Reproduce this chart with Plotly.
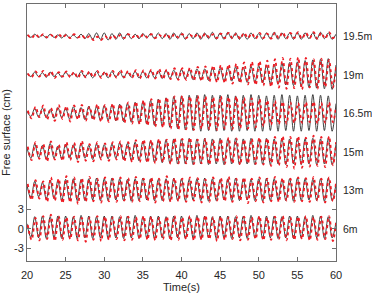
import numpy as np
import plotly.graph_objects as go

# sample times (s): crests / troughs every half second
t = [20 + 0.5 * i for i in range(81)]
# simulated series lags the measured one slightly
t_sim = [min(60.0, 20.1 + 0.5 * i) for i in range(81)]

gauges = ["6m", "13m", "15m", "16.5m", "19m", "19.5m"]
offsets = [0, 6, 12, 18, 24, 30]

meas_6 = [0.8,-1.3,1.9,-1.4,2.0,-1.5,1.9,-1.4,2.0,-1.5,
          2.0,-1.4,1.9,-1.5,2.1,-1.4,2.0,-1.5,1.9,-1.4,
          2.0,-1.5,2.0,-1.4,1.9,-1.5,2.0,-1.4,2.1,-1.5,
          1.9,-1.4,2.0,-1.5,2.0,-1.4,1.9,-1.5,2.0,-1.4,
          2.0,-1.5,1.9,-1.4,2.1,-1.5,2.0,-1.4,1.9,-1.5,
          2.0,-1.4,2.0,-1.5,1.9,-1.4,2.0,-1.5,2.1,-1.4,
          1.9,-1.5,2.0,-1.4,2.0,-1.5,1.9,-1.4,2.0,-1.5,
          2.0,-1.4,1.9,-1.5,2.1,-1.4,2.0,-1.5,1.9,-1.4,
          1.0]
sim_6 = [0.6,-1.7,1.7,-1.8,2.0,-1.6,2.2,-1.9,2.0,-1.7,
         1.8,-1.6,1.9,-1.8,1.7,-2.0,1.8,-1.7,2.0,-1.9,
         1.9,-1.7,1.8,-1.6,2.0,-1.8,1.9,-1.7,1.8,-1.6,
         2.0,-1.7,1.9,-1.8,1.7,-1.6,1.9,-1.8,2.0,-1.7,
         1.8,-1.6,2.0,-1.8,1.9,-1.7,2.1,-1.6,1.8,-1.9,
         1.9,-1.7,1.8,-1.6,2.0,-1.8,1.9,-1.7,1.8,-1.6,
         2.0,-1.8,1.7,-1.7,1.9,-1.6,2.0,-1.8,1.8,-1.7,
         1.9,-1.6,2.0,-1.8,1.8,-1.7,1.9,-1.6,2.0,-1.9,
         0.9]

meas_13 = [0.8,-1.2,1.4,-1.0,1.2,-1.4,1.6,-1.3,1.5,-1.6,
           1.7,-1.5,1.8,-1.6,1.7,-1.6,1.8,-1.5,1.9,-1.6,
           1.8,-1.6,1.9,-1.5,1.8,-1.6,1.7,-1.7,1.8,-1.6,
           1.9,-1.5,1.8,-1.6,1.7,-1.6,1.8,-1.7,1.9,-1.6,
           1.8,-1.6,1.7,-1.5,1.8,-1.6,1.9,-1.7,1.8,-1.6,
           1.7,-1.5,1.8,-1.6,1.9,-1.6,1.8,-1.5,1.7,-1.6,
           1.8,-1.7,1.9,-1.6,1.8,-1.5,1.7,-1.6,1.8,-1.7,
           1.9,-1.6,1.8,-1.5,1.7,-1.6,1.8,-1.7,1.9,-1.6,
           1.0]
sim_13 = [1.0,-1.5,1.6,-1.3,1.4,-1.8,2.0,-1.6,1.8,-2.0,
          2.2,-1.9,2.0,-2.1,1.9,-1.8,2.1,-1.7,1.8,-1.9,
          2.0,-1.7,1.8,-1.8,2.0,-1.6,1.9,-1.8,2.1,-1.7,
          1.8,-1.6,2.0,-1.9,1.8,-1.7,2.2,-1.8,1.9,-1.7,
          1.8,-1.8,2.0,-1.6,1.9,-1.9,1.7,-1.8,2.0,-1.6,
          1.9,-1.7,2.1,-1.8,1.8,-1.6,2.0,-2.0,1.8,-1.7,
          2.0,-1.9,1.8,-1.7,2.1,-1.8,1.9,-1.6,1.8,-1.8,
          2.0,-1.7,1.9,-1.8,2.1,-1.6,1.8,-1.9,2.0,-1.7,
          1.2]

meas_15 = [0.6,-1.0,1.2,-0.9,1.0,-1.2,1.3,-1.0,0.9,-1.1,
           1.2,-1.0,1.1,-1.2,1.3,-1.0,1.0,-1.2,1.2,-1.0,
           1.1,-1.1,1.2,-1.0,1.4,-1.2,1.3,-1.3,1.5,-1.4,
           1.6,-1.5,1.7,-1.6,1.8,-1.7,1.9,-1.8,2.0,-1.9,
           2.0,-1.9,2.1,-2.0,2.0,-1.9,2.1,-2.0,2.0,-1.9,
           2.1,-2.0,2.0,-1.9,2.1,-2.0,2.0,-1.9,2.1,-2.0,
           2.0,-1.9,2.1,-2.0,2.0,-1.9,2.1,-2.0,2.0,-1.9,
           2.1,-2.0,2.0,-1.9,2.1,-2.0,2.0,-1.9,2.1,-2.0,
           1.2]
sim_15 = [0.8,-1.3,1.5,-1.1,1.2,-1.5,1.6,-1.2,1.1,-1.4,
          1.5,-1.3,1.4,-1.6,1.7,-1.4,1.2,-1.5,1.5,-1.2,
          1.3,-1.4,1.5,-1.2,1.6,-1.5,1.5,-1.6,1.8,-1.6,
          1.9,-1.7,1.8,-1.8,2.0,-1.6,1.9,-1.9,2.1,-1.8,
          2.0,-1.8,2.2,-1.9,1.9,-1.8,2.0,-2.0,1.8,-1.7,
          2.0,-1.9,2.2,-1.8,2.1,-2.0,1.9,-1.8,2.0,-1.9,
          2.2,-2.0,2.1,-2.2,2.3,-2.1,2.4,-2.4,2.3,-2.6,
          2.4,-2.5,2.2,-2.3,2.5,-2.2,2.3,-2.4,2.4,-2.1,
          1.5]

meas_165 = [0.3,-0.5,0.7,-0.6,0.8,-0.7,0.6,-0.8,0.9,-0.7,
            0.8,-0.9,1.0,-0.8,0.9,-1.0,1.1,-0.9,1.0,-1.1,
            1.2,-1.1,1.3,-1.2,1.4,-1.3,1.5,-1.4,1.7,-1.6,
            1.8,-1.7,2.0,-1.9,2.2,-2.0,2.4,-2.2,2.6,-2.4,
            2.7,-2.6,2.8,-2.7,2.8,-2.8,2.9,-2.7,2.8,-2.8,
            2.8,-2.7,2.9,-2.8,2.7,-2.8,2.8,-2.7,2.9,-2.8,
            2.8,-2.8,2.7,-2.7,2.8,-2.8,2.9,-2.7,2.8,-2.8,
            2.7,-2.8,2.8,-2.7,2.9,-2.8,2.8,-2.7,2.7,-2.8,
            1.5]
sim_165 = [0.4,-0.8,1.0,-0.6,1.2,-1.0,0.8,-1.2,1.3,-0.9,
           1.1,-1.3,1.2,-1.0,1.3,-1.2,1.0,-1.1,1.4,-1.3,
           1.3,-1.4,1.5,-1.3,1.4,-1.5,1.7,-1.6,1.8,-1.7,
           2.0,-1.9,2.2,-2.1,2.3,-2.2,2.5,-2.4,2.6,-2.5,
           2.7,-2.5,2.6,-2.6,2.7,-2.4,2.6,-2.5,2.5,-2.6,
           2.6,-2.4,2.5,-2.5,2.6,-2.3,2.4,-2.4,2.3,-2.2,
           2.2,-2.0,2.0,-1.8,1.9,-1.7,1.8,-1.6,1.7,-1.5,
           1.6,-1.5,1.7,-1.4,1.8,-1.6,1.6,-1.5,1.7,-1.4,
           1.0]

meas_19 = [0.2,-0.3,0.4,-0.3,0.3,-0.4,0.4,-0.3,0.3,-0.4,
           0.4,-0.3,0.3,-0.4,0.5,-0.4,0.4,-0.5,0.5,-0.4,
           0.4,-0.5,0.5,-0.4,0.5,-0.5,0.4,-0.4,0.5,-0.5,
           0.5,-0.5,0.6,-0.5,0.6,-0.6,0.7,-0.6,0.7,-0.7,
           0.8,-0.7,0.8,-0.8,0.9,-0.8,0.9,-0.9,1.0,-0.9,
           1.0,-1.0,1.1,-1.0,1.2,-1.1,1.2,-1.2,1.3,-1.2,
           1.4,-1.3,1.5,-1.4,1.6,-1.5,1.8,-1.6,1.9,-1.7,
           2.0,-1.9,2.2,-2.0,2.3,-2.1,2.4,-2.2,2.5,-2.3,
           1.5]
sim_19 = [0.2,-0.4,0.5,-0.3,0.6,-0.4,0.5,-0.5,0.4,-0.3,
          0.5,-0.4,0.4,-0.5,0.6,-0.4,0.5,-0.4,0.6,-0.5,
          0.5,-0.4,0.6,-0.5,0.7,-0.4,0.6,-0.5,0.7,-0.6,
          0.7,-0.5,0.8,-0.6,0.9,-0.7,0.8,-0.7,1.0,-0.8,
          1.0,-0.8,1.1,-0.9,1.2,-1.0,1.3,-1.1,1.4,-1.2,
          1.5,-1.3,1.6,-1.4,1.7,-1.3,1.9,-1.5,2.0,-1.6,
          2.1,-1.7,2.2,-1.9,2.4,-2.0,2.6,-2.2,2.5,-2.1,
          2.7,-2.3,2.6,-2.0,2.4,-2.2,2.5,-1.9,2.3,-2.0,
          1.2]

meas_195 = [0.2,-0.2,0.3,-0.2,0.2,-0.3,0.3,-0.2,0.2,-0.3,
            0.3,-0.3,0.2,-0.3,0.3,-0.4,0.4,-0.5,0.5,-0.5,
            0.5,-0.6,0.4,-0.5,0.5,-0.5,0.4,-0.4,0.3,-0.4,
            0.4,-0.3,0.4,-0.4,0.5,-0.4,0.4,-0.5,0.5,-0.4,
            0.5,-0.5,0.4,-0.4,0.5,-0.5,0.5,-0.4,0.6,-0.5,
            0.5,-0.5,0.6,-0.4,0.5,-0.5,0.4,-0.5,0.5,-0.4,
            0.4,-0.5,0.5,-0.4,0.6,-0.5,0.5,-0.4,0.5,-0.5,
            0.6,-0.5,0.5,-0.4,0.5,-0.5,0.6,-0.4,0.5,-0.5,
            0.3]
sim_195 = [0.2,-0.3,0.3,-0.2,0.3,-0.2,0.2,-0.3,0.3,-0.2,
           0.2,-0.3,0.3,-0.2,0.1,-0.4,0.0,-0.6,-0.1,-0.6,
           0.0,-0.5,0.1,-0.3,0.2,-0.3,0.3,-0.2,0.2,-0.3,
           0.3,-0.2,0.3,-0.3,0.2,-0.2,0.3,-0.3,0.3,-0.2,
           0.3,-0.3,0.2,-0.2,0.3,-0.3,0.4,-0.2,0.3,-0.3,
           0.4,-0.3,0.5,-0.3,0.4,-0.4,0.5,-0.3,0.4,-0.4,
           0.5,-0.3,0.4,-0.4,0.5,-0.3,0.6,-0.4,0.5,-0.3,
           0.6,-0.4,0.5,-0.3,0.6,-0.4,0.5,-0.4,0.6,-0.3,
           0.2]

measured = [meas_6, meas_13, meas_15, meas_165, meas_19, meas_195]
simulated = [sim_6, sim_13, sim_15, sim_165, sim_19, sim_195]

x_ticks = [20, 25, 30, 35, 40, 45, 50, 55, 60]
y_ticks = [-3, 0, 3]
y_ticklabels = ["-3", "0", "3"]

FONT = "Liberation Sans, Arial"
TXT = "#262626"

fig = go.Figure()
for m, s, off in zip(measured, simulated, offsets):
    fig.add_trace(go.Scatter(x=t, y=[v + off for v in m], mode="lines",
                             line=dict(color="#2b2b2b", width=0.9, shape="spline", smoothing=1.0),
                             showlegend=False, hoverinfo="skip"))
    fig.add_trace(go.Scatter(x=t_sim, y=[v + off for v in s], mode="lines",
                             line=dict(color="#ee1c24", width=1.8, dash="dot", shape="spline", smoothing=1.0),
                             showlegend=False, hoverinfo="skip"))

for name, off in zip(gauges, offsets):
    fig.add_annotation(x=1.0, xref="paper", xanchor="left", xshift=5,
                       y=off, yref="y", text=name, showarrow=False,
                       font=dict(family=FONT, size=10.5, color=TXT))

axis_common = dict(showline=True, linecolor="#6e6e6e", linewidth=1, mirror="ticks",
                   ticks="inside", ticklen=4, tickcolor="#6e6e6e", showgrid=False,
                   zeroline=False, tickfont=dict(family=FONT, size=11, color=TXT))

fig.update_layout(
    width=372, height=295,
    margin=dict(l=27, r=36, t=3, b=33),
    paper_bgcolor="white", plot_bgcolor="white",
    xaxis=dict(range=[20, 60], tickvals=x_ticks, ticklabelstandoff=4,
               title=dict(text="Time(s)", standoff=3,
                          font=dict(family=FONT, size=11, color=TXT)),
               **axis_common),
    yaxis=dict(range=[-5, 35], tickvals=y_ticks, ticktext=y_ticklabels,
               title=dict(text="Free surface (cm)", standoff=3,
                          font=dict(family=FONT, size=11, color=TXT)),
               **axis_common),
)

fig.write_html("out.html")
